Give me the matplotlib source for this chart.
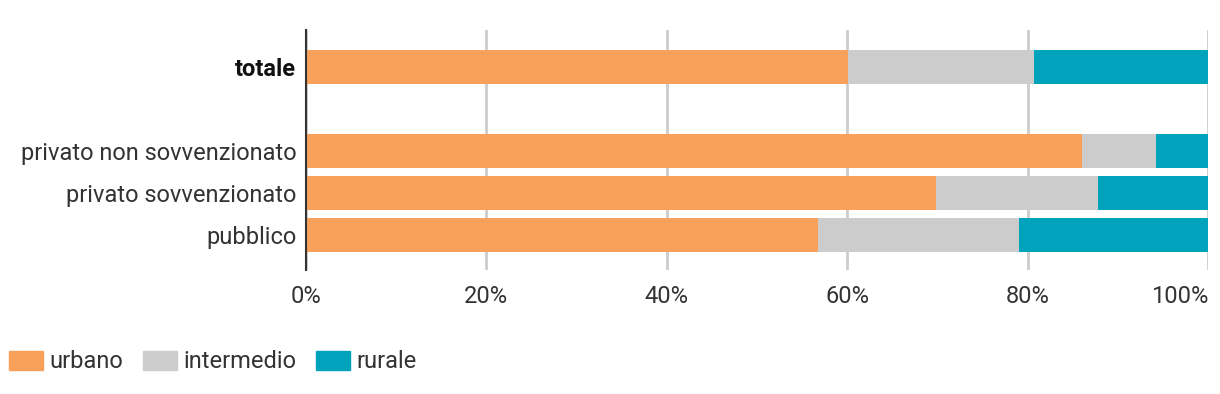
import numpy as np
import matplotlib.pyplot as plt
from matplotlib.patches import Patch

categories = ["totale", "", "privato non sovvenzionato", "privato sovvenzionato", "pubblico"]
urbano = [60.1, 0, 86.0, 69.8, 56.8]
intermedio = [20.6, 0, 8.2, 18.0, 22.2]
rurale = [19.3, 0, 5.8, 12.2, 21.0]
series_names = ["urbano", "intermedio", "rurale"]
colors = ["#F9A05B", "#CCCCCC", "#00A3BB"]
ticks = [0, 20, 40, 60, 80, 100]

plt.rcParams['font.family'] = ['Roboto', 'DejaVu Sans']

fig = plt.figure(figsize=(12.2, 3.94), dpi=100)
ax = fig.add_axes([306/1220, 1 - 270/394, (1208 - 306)/1220, 240/394])

y = np.arange(len(categories))
left = np.zeros(len(categories))
for vals, c in zip([urbano, intermedio, rurale], colors):
    vals = np.array(vals)
    ax.barh(y, vals, left=left, height=0.81, color=c, zorder=2)
    left += vals

ax.set_xlim(0, 100)
ax.set_ylim(4.83, -0.88)
ax.set_xticks(ticks)
ax.set_xticklabels([f"{t}%" for t in ticks], fontsize=17, color="#333333")
ax.get_xticklabels()[-1].set_horizontalalignment('right')
ax.set_yticks(y)
ax.set_yticklabels(categories, fontsize=17, color="#333333")
ax.get_yticklabels()[0].set_fontweight('bold')
ax.get_yticklabels()[0].set_color("#111111")
ax.tick_params(length=0)
ax.tick_params(axis='y', pad=7)
ax.tick_params(axis='x', pad=11)
ax.grid(axis='x', color="#CCCCCC", linewidth=2, zorder=0)
for s in ['top', 'right', 'bottom']:
    ax.spines[s].set_visible(False)
ax.spines['left'].set_color("#333333")
ax.spines['left'].set_linewidth(1.5)
ax.spines['left'].set_zorder(3)

handles = [Patch(color=c, label=n) for n, c in zip(series_names, colors)]
leg = fig.legend(handles=handles, loc='center left', bbox_to_anchor=(0.0, 1 - 362/394), ncol=3,
                 frameon=False, handlelength=1.44, handleheight=0.85,
                 handletextpad=0.25, columnspacing=0.85, borderaxespad=0, borderpad=0.4,
                 prop={'size': 17})
for t in leg.get_texts():
    t.set_color("#333333")

fig.savefig("out.png", dpi=100)
